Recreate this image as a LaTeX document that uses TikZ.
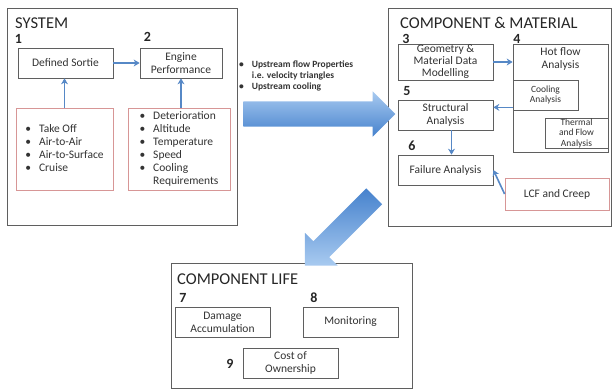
\documentclass[tikz,border=0pt]{standalone}
\usepackage{fontspec}
\setmainfont{Carlito}
\usepackage{xcolor}
\usepackage{tikz}
\usetikzlibrary{shapes.arrows,arrows.meta}

\definecolor{linkblue}{RGB}{86,136,198}
\definecolor{lightblue}{RGB}{168,202,240}
\definecolor{deepblue}{RGB}{70,130,205}
\definecolor{softred}{RGB}{215,150,150}
\definecolor{edgegray}{RGB}{95,95,95}

\begin{document}
\begin{tikzpicture}[x=1pt, y=-1pt, >={Stealth[length=6pt,width=7pt]},
    group/.style={draw=edgegray, line width=0.9pt},
    box/.style={draw=edgegray, line width=0.7pt, fill=white, align=center, inner sep=0pt, text=black!80, font=\fontsize{11.5}{13}\selectfont},
    smallbox/.style={box, font=\fontsize{9.5}{10.5}\selectfont},
    redbox/.style={draw=softred, line width=0.8pt, fill=white, inner sep=0pt, text=black!80, font=\fontsize{11.5}{13}\selectfont},
    title/.style={anchor=west, inner sep=0pt, text=black!85, font=\fontsize{16.5}{19}\selectfont},
    num/.style={inner sep=0pt, text=black!85, font=\fontsize{14}{14}\selectfont\bfseries},
    flow/.style={->, linkblue, line width=1.6pt},
    bigarrow/.style={single arrow, inner xsep=0pt, draw=none, single arrow tip angle=90}]
    \useasboundingbox (0,0) rectangle (614,391);

    \draw[group] (7,8) rectangle (237,225);
    \draw[group] (388,8) rectangle (611,226);
    \draw[group] (171,263) rectangle (412,388);

    \node[bigarrow, minimum height=152pt, inner ysep=12.5pt, single arrow head extend=10pt, top color=lightblue, bottom color=deepblue] (sidearrow) at (313,114) {};
    \node[bigarrow, minimum height=98pt, inner ysep=11pt, single arrow head extend=12pt, top color=deepblue, bottom color=lightblue, rotate=225] (downarrow) at (343.5,227) {};

    \node[title] (systitle) at (15,23) {SYSTEM};
    \node[title] (comptitle) at (400,23) {COMPONENT \& MATERIAL};
    \node[title] (lifetitle) at (177,279.5) {COMPONENT LIFE};

    \node[num] (n1) at (18.5,39) {1};
    \node[num] (n2) at (147.5,37) {2};
    \node[num] (n3) at (406,38.5) {3};
    \node[num] (n4) at (517,38.5) {4};
    \node[num] (n5) at (407,91) {5};
    \node[num] (n6) at (412,146) {6};
    \node[num] (n7) at (183,297.5) {7};
    \node[num] (n8) at (314,297.5) {8};
    \node[num] (n9) at (230,364) {9};

    \node[box, minimum width=95pt, minimum height=30pt] (sortie) at (65.5,63) {Defined Sortie};
    \node[box, minimum width=82pt, minimum height=30pt] (engine) at (181,63) {Engine\\Performance};
    \node[redbox, minimum width=97pt, minimum height=82pt] (missions) at (64.5,149) {\begin{tabular}{@{}l@{\hspace{8pt}}l@{}}
        \textbullet & Take Off\\
        \textbullet & Air-to-Air\\
        \textbullet & Air-to-Surface\\
        \textbullet & Cruise
    \end{tabular}};
    \node[redbox, minimum width=102pt, minimum height=82pt] (factors) at (179,149) {\begin{tabular}{@{}l@{\hspace{8pt}}l@{}}
        \textbullet & Deterioration\\
        \textbullet & Altitude\\
        \textbullet & Temperature\\
        \textbullet & Speed\\
        \textbullet & Cooling\\
         & Requirements
    \end{tabular}};

    \node[anchor=north west, inner sep=0pt, text=black!80, font=\fontsize{9.5}{11}\selectfont\bfseries] (upstream) at (239,59.5) {\begin{tabular}{@{}l@{\hspace{8pt}}l@{}}
        \textbullet & Upstream flow Properties\\
         & i.e. velocity triangles\\
        \textbullet & Upstream cooling
    \end{tabular}};

    \node[box, minimum width=95pt, minimum height=36pt, font=\fontsize{11.5}{12}\selectfont] (geometry) at (445.5,62) {Geometry \&\\Material Data\\Modelling};
    \node[box, minimum width=95pt, minimum height=108pt, label={[anchor=north, align=center, inner sep=0pt, yshift=-4pt, text=black!80, font=\fontsize{11.5}{13}\selectfont]north:Hot flow\\Analysis}] (hot) at (560.5,98) {};
    \node[smallbox, minimum width=65pt, minimum height=30pt] (cooling) at (545.5,95) {Cooling\\Analysis};
    \node[smallbox, minimum width=63pt, minimum height=30pt] (thermal) at (576.5,133) {Thermal\\and Flow\\Analysis};
    \node[box, minimum width=95pt, minimum height=30pt] (structural) at (445.5,115) {Structural\\Analysis};
    \node[box, minimum width=95pt, minimum height=30pt] (failure) at (445.5,170) {Failure Analysis};
    \node[redbox, minimum width=104pt, minimum height=32pt] (lcf) at (557,194) {LCF and Creep};

    \node[box, minimum width=95pt, minimum height=30pt] (damage) at (222.5,322) {Damage\\Accumulation};
    \node[box, minimum width=95pt, minimum height=30pt] (monitoring) at (350.5,322) {Monitoring};
    \node[box, minimum width=95pt, minimum height=30pt] (cost) at (290.5,363) {Cost of\\Ownership};

    \draw[flow] (sortie) -- (engine);
    \draw[flow] (missions.north) -- (missions.north |- sortie.south);
    \draw[flow] (engine.south |- factors.north) -- (engine.south);
    \draw[flow] (geometry.east) -- (geometry.east -| hot.west);
    \draw[flow] ([yshift=3pt]cooling.south west) -- ([yshift=3pt]cooling.south west -| structural.east);
    \draw[flow] ([xshift=6pt]structural.south) -- ([xshift=6pt]failure.north);
    \draw[flow] (lcf.west) -- (failure.east);
\end{tikzpicture}
\end{document}
